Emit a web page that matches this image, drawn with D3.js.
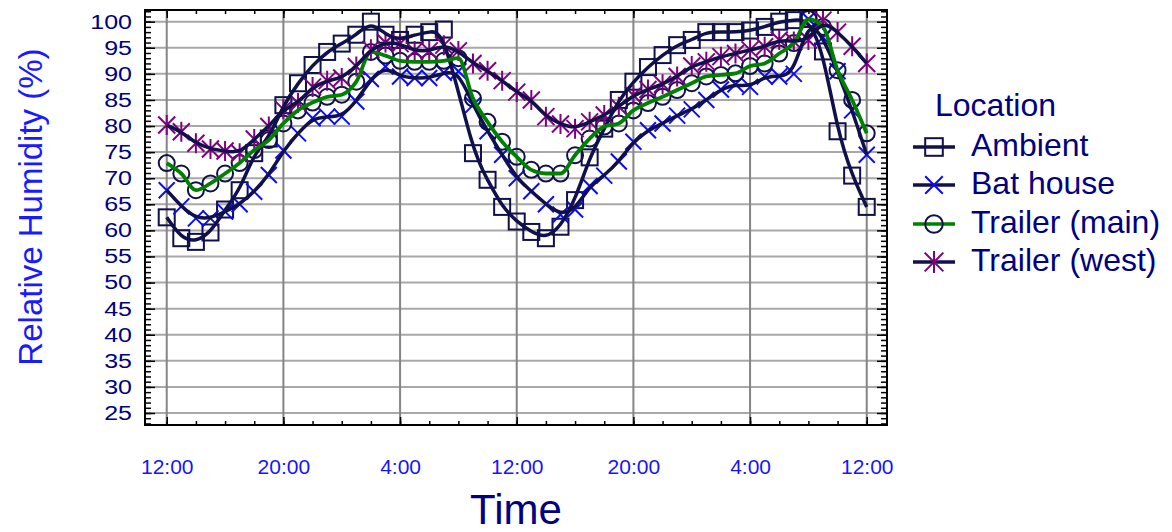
<!DOCTYPE html>
<html><head><meta charset="utf-8">
<script src="https://cdn.jsdelivr.net/npm/d3@7"></script>
<style>body{margin:0;background:#fff} svg{display:block} text{font-family:"Liberation Sans",Arial,sans-serif}</style>
</head><body><svg id="c" width="1172" height="532"></svg>
<script>
const hours = [0,1,2,3,4,5,6,7,8,9,10,11,12,13,14,15,16,17,18,19,20,21,22,23,24,25,26,27,28,29,30,31,32,33,34,35,36,37,38,39,40,41,42,43,44,45,46,47,48];
const ambient = [62.5,58.5,57.8,59.6,64,67.7,74.8,77.6,84,88.2,91.7,94.2,95.8,97.5,100,97.5,96.5,97.5,98,98.5,null,74.8,69.7,64.5,61.7,59.7,58.5,60.7,65.8,74,79.5,85,88.5,91.3,93.6,95.5,96.5,98,98,98,98.3,99,100,100.3,100.5,94.3,79,70.5,64.5];
const batHouse = [67.7,64.6,62.3,62.3,63.6,65,67.4,70.6,75.3,78.6,81.5,81.8,81.8,84.7,89,91.4,89.5,89.2,89.2,90.2,90.5,84,79,74.5,70,67.5,65,63,64,68.5,70.5,73.2,77,79.2,80.5,82,83.2,85,87,88,87.5,89.5,89.5,90,100.5,97,90.5,83,74.5];
const trailerMain = [72.9,70.9,67.7,69,70.9,72.9,75.4,77.3,80.5,83,84.5,85.6,86,88.5,94.2,93.5,92.5,92.3,92.3,92.5,93,85.3,80.8,77,74.1,71.6,70.9,70.9,74.4,77.6,79.9,80.5,83,84.4,85.6,86.9,88.2,89.5,89.8,90.1,91.5,92,93.9,95.9,100.5,99,90.7,85,78.6];
const trailerWest = [80.2,78.9,76.7,75.6,75.2,74.8,77.5,79.9,83.2,84.4,87.5,88.7,89.2,91.4,94.7,96,95.8,94.4,94.4,95.5,94.4,92,90.6,88.7,86.5,85,81.8,80.4,79.5,80.8,82.1,83.7,85.9,87,88,89.5,91.5,92.3,93.3,93.9,94.6,95.2,96.5,96.2,96.5,100.3,98,95.3,92];
const seriesNames = ["Ambient","Bat house","Trailer (main)","Trailer (west)"];
const xTickHours = [0,8,16,24,32,40,48];
const xTickLabels = ["12:00","20:00","4:00","12:00","20:00","4:00","12:00"];
const yTicks = [25,30,35,40,45,50,55,60,65,70,75,80,85,90,95,100];

const navy = "#10104a";
const svg = d3.select("#c");
const L = 145, R = 887, T = 10, B = 425;
const x = d3.scaleLinear().domain([-1.49, 49.39]).range([L, R]);
const y = d3.scaleLinear().domain([22.7, 102.24]).range([B, T]);

// grid
svg.append("g").selectAll("line").data(yTicks).join("line")
  .attr("x1", L).attr("x2", R).attr("y1", d => y(d)).attr("y2", d => y(d))
  .attr("stroke", "#a8a8a8").attr("stroke-width", 2);
svg.append("g").selectAll("line").data(xTickHours).join("line")
  .attr("y1", T).attr("y2", B).attr("x1", d => x(d)).attr("x2", d => x(d))
  .attr("stroke", "#858585").attr("stroke-width", 2);

// ticks
const yMinor = d3.range(23, 103);
const xMinor = d3.range(0, 50, 2);
function tickAxis(gen, tr) {
  svg.append("g").attr("transform", tr).call(gen)
    .call(g => g.select(".domain").remove())
    .selectAll("line").attr("stroke", "#000").attr("stroke-width", 1.5);
}
tickAxis(d3.axisRight(y).tickValues(yMinor).tickSize(6).tickFormat(""), `translate(${L},0)`);
tickAxis(d3.axisRight(y).tickValues(yTicks).tickSize(10).tickFormat(""), `translate(${L},0)`);
tickAxis(d3.axisLeft(y).tickValues(yMinor).tickSize(6).tickFormat(""), `translate(${R},0)`);
tickAxis(d3.axisLeft(y).tickValues(yTicks).tickSize(10).tickFormat(""), `translate(${R},0)`);
tickAxis(d3.axisTop(x).tickValues(xMinor).tickSize(4).tickFormat(""), `translate(0,${B})`);
tickAxis(d3.axisTop(x).tickValues(xTickHours).tickSize(8).tickFormat(""), `translate(0,${B})`);
tickAxis(d3.axisBottom(x).tickValues(xMinor).tickSize(4).tickFormat(""), `translate(0,${T})`);
tickAxis(d3.axisBottom(x).tickValues(xTickHours).tickSize(8).tickFormat(""), `translate(0,${T})`);

// y labels
const yl = svg.append("g").attr("transform", `translate(${L},0)`)
  .call(d3.axisLeft(y).tickValues(yTicks).tickSize(0).tickPadding(13))
  .call(g => g.select(".domain").remove())
  .attr("font-family", null).attr("font-size", null);
yl.selectAll("text").attr("font-size", 20).attr("fill", "#000080")
  .attr("x", -13 / 1.25).attr("transform", "scale(1.25,1)");

// x labels
const xl = svg.append("g").attr("transform", `translate(0,${B})`)
  .call(d3.axisBottom(x).tickValues(xTickHours).tickSize(0).tickPadding(34).tickFormat((d, i) => xTickLabels[i]))
  .call(g => g.select(".domain").remove())
  .attr("font-family", null).attr("font-size", null);
xl.selectAll("text").attr("font-size", 21).attr("fill", "#1414ff");

// titles
svg.append("text").attr("transform", "translate(42,207) rotate(-90)")
  .attr("text-anchor", "middle").attr("font-size", 33).attr("fill", "#1a1aff")
  .text("Relative Humidity (%)");
svg.append("text").attr("x", 516).attr("y", 524).attr("text-anchor", "middle")
  .attr("font-size", 42).attr("fill", "#000080").text("Time");

// markers
function drawMarker(g, kind, cx, cy, scale) {
  const s = scale || 1;
  if (kind === "square") {
    g.append("rect").attr("x", cx - 8 * s).attr("y", cy - 8 * s).attr("width", 16 * s).attr("height", 16 * s)
      .attr("fill", "none").attr("stroke", navy).attr("stroke-width", 2);
  } else if (kind === "circle") {
    g.append("circle").attr("cx", cx).attr("cy", cy).attr("r", 8 * s)
      .attr("fill", "none").attr("stroke", navy).attr("stroke-width", 2);
  } else if (kind === "x") {
    const h = 8 * s;
    g.append("path").attr("d", `M${cx - h},${cy - h}L${cx + h},${cy + h}M${cx - h},${cy + h}L${cx + h},${cy - h}`)
      .attr("stroke", "#0a0aff").attr("stroke-width", 2).attr("fill", "none");
  } else if (kind === "star") {
    const h = 8.5 * s, v = 10 * s;
    g.append("path").attr("d", `M${cx - h},${cy - h}L${cx + h},${cy + h}M${cx - h},${cy + h}L${cx + h},${cy - h}M${cx},${cy - v}L${cx},${cy + v}`)
      .attr("stroke", "#800080").attr("stroke-width", 2).attr("fill", "none");
  }
}

const series = [
  { name: seriesNames[0], vals: ambient, marker: "square", line: navy, curve: d3.curveBasis },
  { name: seriesNames[1], vals: batHouse, marker: "x", line: navy, curve: d3.curveBasis },
  { name: seriesNames[2], vals: trailerMain, marker: "circle", line: "#008000", curve: d3.curveMonotoneX },
  { name: seriesNames[3], vals: trailerWest, marker: "star", line: navy, curve: d3.curveBasis }
];

const mg = svg.append("g");
series.forEach(s => {
  const pts = hours.map((h, i) => [h, s.vals[i]]).filter(p => p[1] != null);
  const g = mg.append("g");
  pts.forEach(p => drawMarker(g, s.marker, x(p[0]), y(p[1])));
});
const lg = svg.append("g");
series.forEach(s => {
  const pts = hours.map((h, i) => [h, s.vals[i]]).filter(p => p[1] != null);
  lg.append("path").datum(pts)
    .attr("d", d3.line().x(p => x(p[0])).y(p => y(p[1])).curve(s.curve))
    .attr("fill", "none").attr("stroke", s.line).attr("stroke-width", s.line === navy ? 3.5 : 3.8)
    .attr("stroke-linejoin", "round");
});

// frame
svg.append("rect").attr("x", L).attr("y", T).attr("width", R - L).attr("height", B - T)
  .attr("fill", "none").attr("stroke", "#000").attr("stroke-width", 2);

// legend
svg.append("text").attr("x", 935).attr("y", 116).attr("font-size", 32).attr("fill", "#000080").text("Location");
const legY = [147, 185, 224, 262];
series.forEach((s, i) => {
  const g = svg.append("g");
  g.append("line").attr("x1", 913).attr("x2", 955).attr("y1", legY[i]).attr("y2", legY[i])
    .attr("stroke", s.line).attr("stroke-width", 3.5);
  drawMarker(g, s.marker, 934, legY[i], 1.1);
  g.append("text").attr("x", 971).attr("y", legY[i] + 9).attr("font-size", 32)
    .attr("fill", "#000080").text(s.name);
});
</script></body></html>
